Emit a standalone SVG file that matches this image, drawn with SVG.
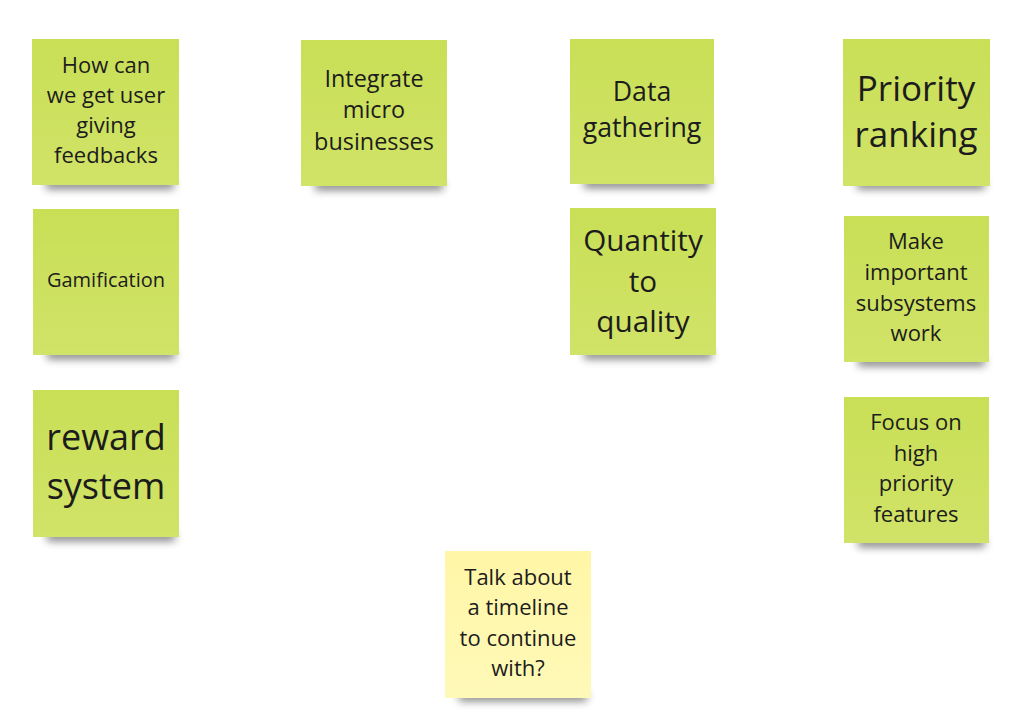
<svg xmlns="http://www.w3.org/2000/svg" width="1023" height="714" viewBox="0 0 1023 714">
<style>
.t{font-family:"Open Sans","Noto Sans",sans-serif;fill:#1c1c1c;text-anchor:middle}
.g{fill:url(#gg)}
.y{fill:url(#gy)}
.sh{fill:#000;opacity:0.5;filter:url(#blur)}
</style>
<defs>
<linearGradient id="gg" x1="0" y1="0" x2="0" y2="1">
<stop offset="0" stop-color="#c9df56"/>
<stop offset="1" stop-color="#d1e368"/>
</linearGradient>
<linearGradient id="gy" x1="0" y1="0" x2="0" y2="1">
<stop offset="0" stop-color="#fff6a6"/>
<stop offset="1" stop-color="#fff9b8"/>
</linearGradient>
<filter id="blur" x="-20%" y="-100%" width="140%" height="300%">
<feGaussianBlur stdDeviation="4"/>
</filter>
</defs>
<rect width="1023" height="714" fill="#ffffff"/>
<g id="connectors"></g>

<g id="n1">
<rect class="sh" x="46" y="180" width="128" height="9"/>
<rect class="g" x="32" y="39" width="147" height="146"/>
<text class="t" font-size="22"><tspan x="106" y="73">How can</tspan><tspan x="106" y="103">we get user</tspan><tspan x="106" y="133">giving</tspan><tspan x="106" y="163">feedbacks</tspan></text>
</g>

<g id="n2">
<rect class="sh" x="47" y="350" width="128" height="9"/>
<rect class="g" x="33" y="209" width="146" height="146"/>
<text class="t" font-size="20"><tspan x="106" y="287">Gamification</tspan></text>
</g>

<g id="n3">
<rect class="sh" x="47" y="532" width="128" height="9"/>
<rect class="g" x="33" y="390" width="146" height="147"/>
<text class="t" font-size="36"><tspan x="106" y="450">reward</tspan><tspan x="106" y="499">system</tspan></text>
</g>

<g id="n4">
<rect class="sh" x="315" y="181" width="128" height="9"/>
<rect class="g" x="301" y="40" width="146" height="146"/>
<text class="t" font-size="23.4"><tspan x="374" y="87">Integrate</tspan><tspan x="374" y="118">micro</tspan><tspan x="374" y="150">businesses</tspan></text>
</g>

<g id="n5">
<rect class="sh" x="584" y="179" width="126" height="9"/>
<rect class="g" x="570" y="39" width="144" height="145"/>
<text class="t" font-size="26.7"><tspan x="642" y="101">Data</tspan><tspan x="642" y="137">gathering</tspan></text>
</g>

<g id="n6">
<rect class="sh" x="584" y="350" width="128" height="9"/>
<rect class="g" x="570" y="208" width="146" height="147"/>
<text class="t" font-size="29.7"><tspan x="643" y="251">Quantity</tspan><tspan x="643" y="292">to</tspan><tspan x="643" y="332">quality</tspan></text>
</g>

<g id="n7">
<rect class="sh" x="857" y="180" width="128" height="9"/>
<rect class="g" x="843" y="39" width="147" height="147"/>
<text class="t" font-size="35"><tspan x="916" y="101">Priority</tspan><tspan x="916" y="147">ranking</tspan></text>
</g>

<g id="n8">
<rect class="sh" x="858" y="357" width="127" height="9"/>
<rect class="g" x="844" y="216" width="145" height="146"/>
<text class="t" font-size="22"><tspan x="916" y="249">Make</tspan><tspan x="916" y="280">important</tspan><tspan x="916" y="311">subsystems</tspan><tspan x="916" y="341">work</tspan></text>
</g>

<g id="n9">
<rect class="sh" x="858" y="538" width="127" height="9"/>
<rect class="g" x="844" y="397" width="145" height="146"/>
<text class="t" font-size="22"><tspan x="916" y="430">Focus on</tspan><tspan x="916" y="461">high</tspan><tspan x="916" y="491">priority</tspan><tspan x="916" y="522">features</tspan></text>
</g>

<g id="n10">
<rect class="sh" x="459" y="692" width="128" height="9"/>
<rect class="y" x="445" y="551" width="146" height="147"/>
<text class="t" font-size="22"><tspan x="518" y="585">Talk about</tspan><tspan x="518" y="615">a timeline</tspan><tspan x="518" y="646">to continue</tspan><tspan x="518" y="676">with?</tspan></text>
</g>
</svg>
